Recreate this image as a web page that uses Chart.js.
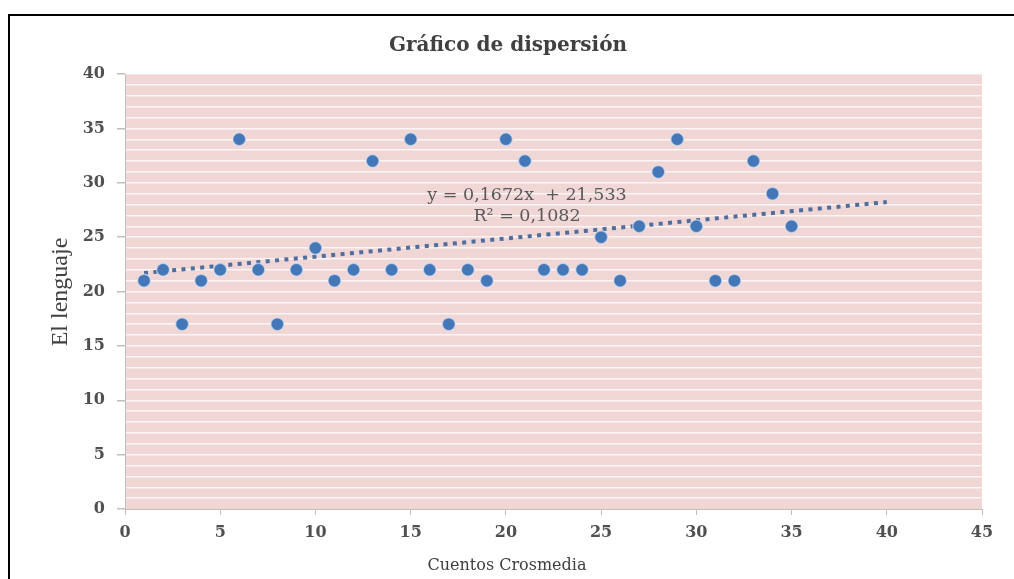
<!DOCTYPE html>
<html>
<head>
<meta charset="utf-8">
<script src="https://cdn.jsdelivr.net/npm/chart.js@4"></script>
<style>
  html, body { margin: 0; padding: 0; background: #ffffff; }
  #wrap { position: relative; width: 1014px; height: 579px; }
</style>
</head>
<body>
<div id="wrap"><canvas id="c" width="1014" height="579"></canvas></div>
<script>
// Data
const xValues = [1,2,3,4,5,6,7,8,9,10,11,12,13,14,15,16,17,18,19,20,21,22,23,24,25,26,27,28,29,30,31,32,33,34,35];
const yValues = [21,22,17,21,22,34,22,17,22,24,21,22,32,22,34,22,17,22,21,34,32,22,22,22,25,21,26,31,34,26,21,21,32,29,26];
const trendSlope = 0.1672;
const trendIntercept = 21.533;
const trendRange = [1, 40];
const xTicks = [0,5,10,15,20,25,30,35,40,45];
const yTicks = [0,5,10,15,20,25,30,35,40];
const titleText = 'Gráfico de dispersión';
const xTitle = 'Cuentos Crosmedia';
const yTitle = 'El lenguaje';
const eqLine1 = 'y = 0,1672x  + 21,533';
const eqLine2 = 'R² = 0,1082';

const points = xValues.map((x, i) => ({ x: x, y: yValues[i] }));
const trendPoints = trendRange.map(x => ({ x: x, y: trendSlope * x + trendIntercept }));

const AREA = { left: 125, right: 982, top: 74, bottom: 509 };
const W = 1014, H = 579;

const decor = {
  id: 'decor',
  beforeDraw(chart) {
    const ctx = chart.ctx, a = chart.chartArea;
    ctx.save();
    ctx.fillStyle = '#f1d6d6';
    ctx.fillRect(a.left, a.top, a.right - a.left, a.bottom - a.top);
    ctx.restore();
  },
  afterDraw(chart) {
    const ctx = chart.ctx;
    ctx.save();
    // outer frame (left and top edges visible)
    ctx.strokeStyle = '#000000';
    ctx.lineWidth = 2;
    ctx.beginPath();
    ctx.moveTo(9, H + 5);
    ctx.lineTo(9, 15);
    ctx.lineTo(W + 5, 15);
    ctx.stroke();
    // title
    ctx.fillStyle = '#404040';
    ctx.textAlign = 'center';
    ctx.textBaseline = 'middle';
    ctx.font = 'bold 20px "DejaVu Serif"';
    ctx.fillText(titleText, 508, 46);
    // x axis title
    ctx.font = '16px "DejaVu Serif"';
    ctx.fillText(xTitle, 507, 566);
    // y axis title
    ctx.save();
    ctx.translate(61, 292);
    ctx.rotate(-Math.PI / 2);
    ctx.font = '24px "Liberation Serif"';
    ctx.fillText(yTitle, 0, 0);
    ctx.restore();
    // trendline equation
    ctx.fillStyle = '#595959';
    ctx.font = '17.5px "DejaVu Serif"';
    ctx.fillText(eqLine1, 527, 195);
    ctx.fillText(eqLine2, 527, 216);
    ctx.restore();
  }
};

new Chart(document.getElementById('c'), {
  type: 'scatter',
  data: {
    datasets: [
      {
        label: 'Trend',
        type: 'line',
        data: trendPoints,
        borderColor: '#4f6e9e',
        borderWidth: 4,
        borderDash: [4, 5.4],
        borderCapStyle: 'butt',
        pointRadius: 0,
        fill: false,
        order: 2
      },
      {
        label: 'Datos',
        data: points,
        backgroundColor: '#4477b8',
        borderColor: 'rgba(225,232,245,0.6)',
        borderWidth: 1.5,
        pointRadius: 6.5,
        pointHoverRadius: 6.5,
        order: 1
      }
    ]
  },
  options: {
    responsive: false,
    animation: false,
    events: [],
    layout: { padding: { left: 0, right: W - AREA.right, top: AREA.top, bottom: 0 } },
    plugins: {
      legend: { display: false },
      title: { display: false },
      tooltip: { enabled: false }
    },
    scales: {
      x: {
        type: 'linear',
        min: 0, max: 45,
        afterFit(s) { s.height = H - AREA.bottom; },
        afterBuildTicks(s) { s.ticks = xTicks.map(v => ({ value: v })); },
        ticks: {
          autoSkip: false,
          maxRotation: 0,
          padding: 8,
          color: '#505050',
          font: { family: '"DejaVu Serif"', size: 16, weight: 'bold' }
        },
        grid: {
          drawOnChartArea: false,
          drawTicks: true,
          tickLength: 6,
          tickColor: '#bfbfbf'
        },
        border: { color: '#bfbfbf', width: 1 }
      },
      y: {
        type: 'linear',
        min: 0, max: 40,
        afterFit(s) { s.width = AREA.left; },
        ticks: {
          stepSize: 1,
          autoSkip: false,
          padding: 12,
          color: '#505050',
          font: { family: '"DejaVu Serif"', size: 16, weight: 'bold' },
          callback: (v) => (yTicks.includes(v) ? String(v) : '')
        },
        grid: {
          color: (c) => (c.tick && c.tick.value === 0 ? 'rgba(0,0,0,0)' : 'rgba(255,255,255,0.75)'),
          lineWidth: 1.5,
          drawTicks: true,
          tickLength: 8,
          tickColor: (c) => (c.tick && yTicks.includes(c.tick.value) ? '#bfbfbf' : 'rgba(0,0,0,0)')
        },
        border: { color: '#bfbfbf', width: 1 }
      }
    }
  },
  plugins: [decor]
});
</script>
</body>
</html>
